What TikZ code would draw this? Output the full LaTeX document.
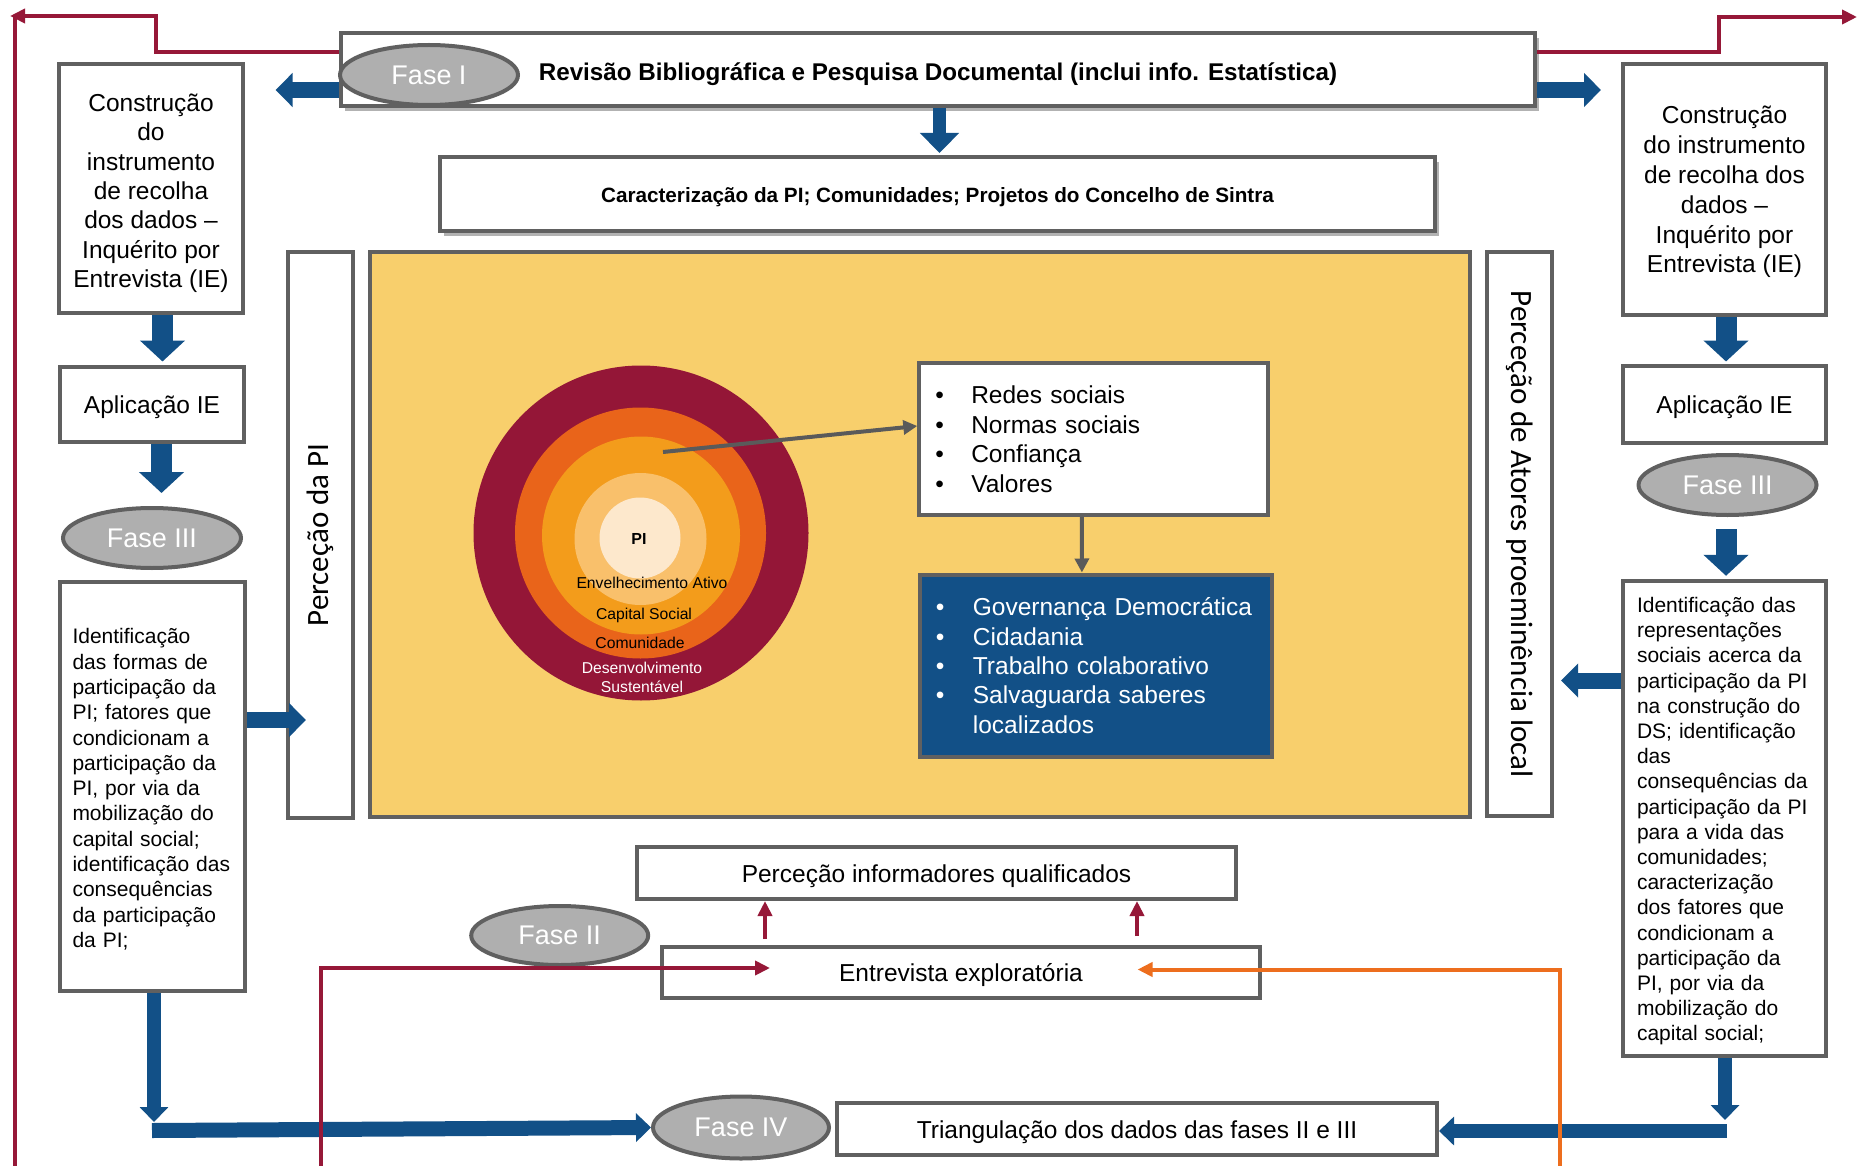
\documentclass[tikz,border=0pt]{standalone}
\usepackage{fontspec}
\setmainfont{Liberation Sans}
\newfontfamily\calib{Carlito}
\usepackage{graphicx}
\usetikzlibrary{arrows.meta,shapes.geometric,shadows}
\definecolor{myblue}{RGB}{18,80,135}
\definecolor{myred}{RGB}{150,24,56}
\definecolor{myorange}{RGB}{237,110,30}
\definecolor{bgray}{RGB}{96,96,96}
\definecolor{egray}{RGB}{175,175,175}
\definecolor{agray}{RGB}{90,90,90}
\definecolor{ybg}{RGB}{248,207,108}
\definecolor{cdark}{RGB}{148,22,55}
\definecolor{corange}{RGB}{233,100,26}
\definecolor{clight}{RGB}{243,156,27}
\definecolor{cpale}{RGB}{249,192,107}
\definecolor{ccream}{RGB}{253,232,204}
\newcommand\myfs[2]{\fontsize{#1}{#2}\selectfont}
\newcommand\tup[1]{\rule{0pt}{#1pt}}
\begin{document}
\begin{tikzpicture}[x=1pt,y=-1pt,
 box/.style={draw=bgray,line width=4pt,fill=white,inner sep=0pt,align=center,font=\myfs{24.5}{29.4}},
 fase/.style={ellipse,draw=bgray,line width=4pt,fill=egray,text=white,inner sep=0pt,minimum width=178pt,minimum height=60pt,font=\myfs{27}{32}},
 barrow/.style={draw=myblue,line width=16pt,-{Triangle[length=17pt,width=33pt]}},
 barrowL/.style={draw=myblue,line width=21pt,-{Triangle[length=21pt,width=44pt]}},
 barrowS/.style={draw=myblue,line width=14.5pt,-{Triangle[length=15pt,width=28pt]}},
 barrowD/.style={draw=myblue,line width=13pt,-{Triangle[length=20pt,width=38pt]}},
 rarrow/.style={draw=myred,line width=4pt,-{Triangle[length=15pt,width=14pt]}},
 oarrow/.style={draw=myorange,line width=4pt,-{Triangle[length=15pt,width=14pt]}},
 garrow/.style={draw=agray,line width=4pt,-{Triangle[length=14pt,width=14pt]}},
 shad/.style={drop shadow={shadow xshift=4pt,shadow yshift=-5pt,fill=black,opacity=0.3}},
 clab/.style={inner sep=0pt,align=center,font=\myfs{15.7}{19}},
]
\useasboundingbox (0,0) rectangle (1857,1166);

% ---------- top boxes
\node[box,shad,minimum width=1194pt,minimum height=73pt] (rev) at (938,69.5)
  {\myfs{24.2}{29}\bfseries\tup{28}Revisão Bibliográfica e Pesquisa Documental (inclui info. Estatística)};
\node[fase] (f1) at (429,75) {Fase I};
\node[box,shad,minimum width=995pt,minimum height=74pt] (car) at (937.5,194)
  {\myfs{20.7}{25}\bfseries\tup{21}Caracterização da PI; Comunidades; Projetos do Concelho de Sintra};

% ---------- central panel
\node[draw=bgray,line width=4pt,fill=ybg,minimum width=1100pt,minimum height=565pt,inner sep=0pt] (yel) at (920,534.5) {};
\fill[cdark] (641,533) circle[radius=167.5pt];
\fill[corange] (640.5,533) circle[radius=125.5pt];
\fill[clight] (641,535.5) circle[radius=99pt];
\fill[cpale] (640.5,539) circle[radius=66pt];
\fill[ccream] (640,538) circle[radius=40.5pt];
\node[clab,font=\myfs{16}{19}\bfseries] (cpi) at (639,539) {PI};
\node[clab] (cenv) at (652,583) {Envelhecimento Ativo};
\node[clab] (ccap) at (644,615) {Capital Social};
\node[clab] (ccom) at (640,643) {Comunidade};
\node[clab,text=white] (cdes) at (642,677) {Desenvolvimento\\Sustentável};
\coordinate (cstart) at (663,452);

\node[box,minimum width=349pt,minimum height=152pt,text width=317pt,inner xsep=16pt,align=left] (redes) at (1093.8,439.2)
  {\makebox[36pt][l]{•}Redes sociais\\\makebox[36pt][l]{•}Normas sociais\\\makebox[36pt][l]{•}Confiança\\\makebox[36pt][l]{•}Valores};
\node[box,fill=myblue,text=white,minimum width=352pt,minimum height=182pt,text width=320pt,inner xsep=16pt,align=left] (gov) at (1095.9,665.5)
  {\makebox[37pt][l]{•}Governança Democrática\\\makebox[37pt][l]{•}Cidadania\\\makebox[37pt][l]{•}Trabalho colaborativo\\\makebox[37pt][l]{•}Salvaguarda saberes\\\makebox[37pt][l]{}localizados};

% ---------- side vertical boxes
\node[box,minimum width=65pt,minimum height=566pt] (pl) at (320.5,535)
  {\rotatebox{90}{\calib\myfs{31}{36}Perceção da PI}};
\node[box,minimum width=65pt,minimum height=564pt] (pa) at (1519.5,534)
  {\rotatebox{-90}{\calib\myfs{31}{36}Perceção de Atores proeminência local}};

% ---------- left column
\node[box,minimum width=184pt,minimum height=249pt] (c1) at (151,188.5)
  {\tup{27}Construção\\do\\instrumento\\de recolha\\dos dados –\\Inquérito por\\Entrevista (IE)};
\node[box,minimum width=184pt,minimum height=75pt] (a1) at (152,404) {\tup{25}Aplicação IE};
\node[fase] (f3l) at (152,538) {Fase III};
\node[box,minimum width=185pt,minimum height=409pt,text width=160pt,inner xsep=12.5pt,align=left,font=\myfs{21}{25.3}] (i1) at (152.5,786.5)
  {\tup{21}Identificação\\das formas de\\participação da\\PI; fatores que\\condicionam a\\participação da\\PI, por via da\\mobilização do\\capital social;\\identificação das\\consequências\\da participação\\da PI;};

% ---------- right column
\node[box,minimum width=203pt,minimum height=251pt,font=\myfs{24.5}{29.8}] (c2) at (1724.5,189.5)
  {\tup{23}Construção\\do instrumento\\de recolha dos\\dados –\\Inquérito por\\Entrevista (IE)};
\node[box,minimum width=203pt,minimum height=77pt] (a2) at (1724.5,404) {\tup{24}Aplicação IE};
\node[fase] (f3r) at (1727.5,485) {Fase III};
\node[box,minimum width=203pt,minimum height=475pt,text width=175pt,inner xsep=14pt,align=left,font=\myfs{21}{25.2}] (i2) at (1724.5,818.3)
  {\tup{21}Identificação das\\representações\\sociais acerca da\\participação da PI\\na construção do\\DS; identificação\\das\\consequências da\\participação da PI\\para a vida das\\comunidades;\\caracterização\\dos fatores que\\condicionam a\\participação da\\PI, por via da\\mobilização do\\capital social;};

% ---------- bottom
\node[box,minimum width=599pt,minimum height=52pt] (inf) at (936.5,873) {\tup{25}Perceção informadores qualificados};
\node[box,minimum width=598pt,minimum height=51pt] (ent) at (961,972.5) {\tup{23}Entrevista exploratória};
\node[fase,minimum width=177pt,minimum height=59pt] (f2) at (559.7,935.5) {Fase II};
\node[box,minimum width=600pt,minimum height=52pt] (tri) at (1137,1129) {\tup{25}Triangulação dos dados das fases II e III};
\node[fase,minimum width=176pt,minimum height=62pt] (f4) at (741,1127.5) {Fase IV};

% ---------- free ends
\coordinate (revL) at (275.5,90);
\coordinate (revR) at (1601,90);
\coordinate (botL) at (154,1122);
\coordinate (barL) at (152,1130.5);
\coordinate (barR) at (1727,1131);
\coordinate (botR) at (1725,1120);
\coordinate (redB) at (321,1166);
\coordinate (oraB) at (1560,1166);
\coordinate (frL) at (15,1166);
\coordinate (tipL) at (10,16);
\coordinate (tipR) at (1857,17);

% ---------- blue connectors
\draw[barrow] ([yshift=-20.5pt]rev.west) -- (revL);
\draw[barrow] ([yshift=-20.5pt]rev.east) -- (revR);
\draw[barrowD] ([xshift=1.5pt]rev.south) -- ([xshift=2pt,yshift=2pt]car.north);
\draw[barrowL] ([xshift=11.5pt]c1.south) -- ([xshift=10.5pt,yshift=3pt]a1.north);
\draw[barrowL] ([xshift=9.5pt]a1.south) -- ([xshift=9.5pt,yshift=13pt]f3l.north);
\draw[barrow] ([yshift=66.5pt]i1.east) -- ([xshift=20pt,yshift=-185pt]pl.west);
\draw[barrowS] ([xshift=1.5pt]i1.south) -- (botL);
\draw[barrowS,line width=15pt] (barL) -- (f4.west);
\draw[barrowL] ([xshift=1.5pt]c2.south) -- ([xshift=1.5pt,yshift=2pt]a2.north);
\draw[barrowL] ([xshift=-1.5pt,yshift=-12pt]f3r.south) -- ([xshift=1.5pt,yshift=3pt]i2.north);
\draw[barrow] ([yshift=137.8pt]i2.west) -- ([xshift=7pt,yshift=-146.5pt]pa.east);
\draw[barrowS,line width=13.5pt] ([xshift=0.5pt]i2.south) -- (botR);
\draw[barrowS,line width=14.5pt] (barR) -- ([yshift=-2pt]tri.east);

% ---------- grey connectors
\draw[garrow] (cstart) -- ([yshift=13.2pt]redes.west);
\draw[garrow] ([xshift=-12pt]redes.south) -- ([xshift=-14pt]gov.north);

% ---------- red / orange connectors
\draw[rarrow] ([yshift=17.5pt]rev.west) -- (156,52) -- (156,16) -- (tipL);
\draw[myred,line width=4pt] (15,16) -- (frL);
\draw[rarrow] ([yshift=17.1pt]rev.east) -- (1719,52.4) -- (1719,17) -- (tipR);
\draw[rarrow] ([xshift=-196pt,yshift=6pt]ent.north) -- ([xshift=-171.5pt]inf.south);
\draw[rarrow] ([xshift=176pt,yshift=9pt]ent.north) -- ([xshift=200.5pt]inf.south);
\draw[rarrow] (redB) -- (321,968) -- ([xshift=110pt,yshift=4.5pt]ent.west);
\draw[oarrow] (oraB) -- (1560,969.5) -- ([xshift=-124.5pt,yshift=3pt]ent.east);
\end{tikzpicture}
\end{document}
